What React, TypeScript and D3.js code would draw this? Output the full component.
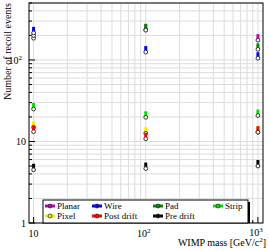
import * as d3 from "d3";

const masses = [10, 100, 1000];

const planar = [185, 235, 175];
const pad = [200, 232, 135];
const wire = [215, 125, 105];
const strip = [25, 19.8, 20.8];
const pixel = [14.9, 12.6, 13];
const postDrift = [13.2, 10.8, 13];
const preDrift = [4.5, 4.65, 5.0];

// drawing order (later ones sit on top)
const seriesNames = ["Planar", "Pad", "Wire", "Strip", "Pixel", "Post drift", "Pre drift"];
const seriesColors = ["#c000c0", "#008800", "#0000ff", "#00e000", "#f0f000", "#ff0000", "#000000"];
const seriesValues = [planar, pad, wire, strip, pixel, postDrift, preDrift];
// legend slot [column, row] for each series
const legendPos = [
  [0, 0], [2, 0], [1, 0], [3, 0], [0, 1], [1, 1], [2, 1],
];

const xTickLabels = ["10", "10", "10"];
const xTickExp = ["", "2", "3"];
const yTickLabels = ["1", "10", "10"];
const yTickExp = ["", "", "2"];

const W = 269;
const H = 251;
const left = 29;
const right = 263;
const top = 3;
const bottom = 223;

export default function App() {
  const x = d3.scaleLog().domain([9.1, 1110]).range([left, right]);
  const y = d3.scaleLog().domain([1, 500]).range([bottom, top]);

  const xMinor: number[] = [];
  for (const d of [10, 100, 1000]) for (let k = 1; k <= 9; k++) {
    const v = d * k;
    if (v >= 9.1 && v <= 1110) xMinor.push(v);
  }
  const yMinor: number[] = [];
  for (const d of [1, 10, 100]) for (let k = 1; k <= 9; k++) {
    const v = d * k;
    if (v >= 1 && v <= 500) yMinor.push(v);
  }
  const xMajor = [10, 100, 1000];
  const yMajor = [1, 10, 100];

  const font = "'Liberation Serif', 'DejaVu Serif', serif";

  // legend layout
  const legX = 43, legY = 200, legW = 205, legH = 23;
  const colX = [50, 97, 158, 218];
  const rowY = [206, 216];

  return (
    <svg width={W} height={H} style={{ position: "absolute", left: 0, top: 0 }}>
      <rect x={0} y={0} width={W} height={H} fill="#fff" />
      {/* grid */}
      {xMinor.map((v, i) => (
        <line key={"gx" + i} x1={x(v)} x2={x(v)} y1={top} y2={bottom} stroke="#dcdcdc" strokeWidth={1} />
      ))}
      {yMinor.map((v, i) => (
        <line key={"gy" + i} x1={left} x2={right} y1={y(v)} y2={y(v)} stroke="#dcdcdc" strokeWidth={1} />
      ))}
      {/* ticks */}
      {xMinor.map((v, i) => (
        <line key={"tx" + i} x1={x(v)} x2={x(v)} y1={bottom} y2={bottom - (xMajor.includes(v) ? 6 : 3)} stroke="#000" />
      ))}
      {yMinor.map((v, i) => (
        <line key={"ty" + i} x1={left} x2={left + (yMajor.includes(v) ? 6 : 3)} y1={y(v)} y2={y(v)} stroke="#000" />
      ))}
      <rect x={left} y={top} width={right - left} height={bottom - top} fill="none" stroke="#000" strokeWidth={1} />

      {/* data */}
      {seriesValues.map((vals, s) => (
        <g key={"s" + s}>
          {vals.map((v, i) => (
            <g key={i}>
              <rect x={x(masses[i]) - 1.5} y={y(v) - 6} width={3} height={7} fill={seriesColors[s]} />
              <circle cx={x(masses[i])} cy={y(v)} r={1.9} fill="#fff" stroke="#333" strokeWidth={1} />
            </g>
          ))}
        </g>
      ))}

      {/* tick labels */}
      {xMajor.map((v, i) => (
        <text key={"xl" + i} x={x(v) - (xTickExp[i] ? 2 : 0)} y={i === 2 ? 236 : 237} fontFamily={font} fontSize={10} textAnchor="middle">
          {xTickLabels[i]}
          {xTickExp[i] && <tspan dy={-4} fontSize={7}>{xTickExp[i]}</tspan>}
        </text>
      ))}
      {yMajor.map((v, i) => (
        <text key={"yl" + i} x={yTickExp[i] ? 22 : 26} y={y(v) + 4} fontFamily={font} fontSize={10} textAnchor="end">
          {yTickLabels[i]}
          {yTickExp[i] && <tspan dy={-4} fontSize={7}>{yTickExp[i]}</tspan>}
        </text>
      ))}

      {/* axis titles */}
      <text x={266} y={246} fontFamily={font} fontSize={10} textAnchor="end">
        WIMP mass [GeV/c<tspan dy={-4} fontSize={7}>2</tspan><tspan dy={4}>]</tspan>
      </text>
      <text transform="translate(11,3) rotate(-90)" fontFamily={font} fontSize={10} textAnchor="end">
        Number of recoil events
      </text>

      {/* legend */}
      <rect x={legX + 2} y={legY + 2} width={legW} height={legH - 2} fill="#000" />
      <rect x={legX} y={legY} width={legW} height={legH} fill="#fff" stroke="#000" strokeWidth={1} />
      {seriesNames.map((n, s) => {
        const cx = colX[legendPos[s][0]];
        const cy = rowY[legendPos[s][1]];
        return (
          <g key={"lg" + s}>
            <line x1={cx - 5} x2={cx + 5} y1={cy} y2={cy} stroke={seriesColors[s]} strokeWidth={3} />
            <circle cx={cx} cy={cy} r={2} fill={seriesColors[s]} stroke="#333" strokeWidth={0.8} />
            <text x={cx + 7} y={cy + 3} fontFamily={font} fontSize={9}>{n}</text>
          </g>
        );
      })}
    </svg>
  );
}
